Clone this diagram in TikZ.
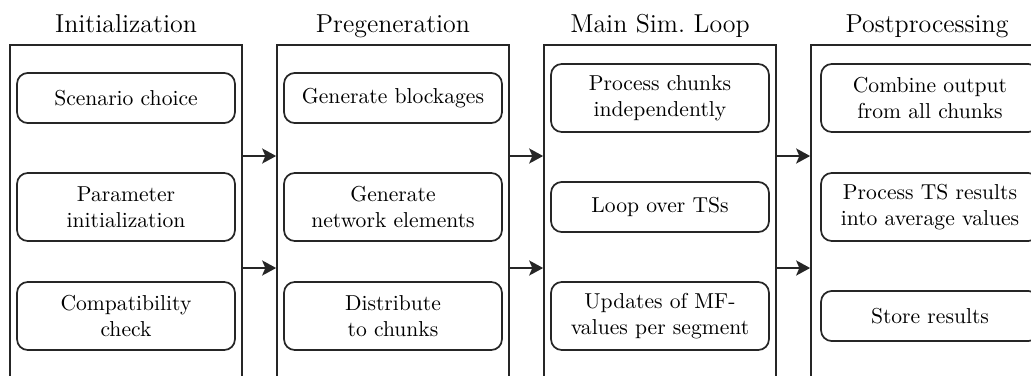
\documentclass[tikz,border=0pt]{standalone}
\usepackage{tikz}
\usetikzlibrary{positioning,arrows.meta}
\tikzset{
  stage/.style={draw=black!85,line width=0.8pt,anchor=north,
                minimum width=107.4pt,minimum height=170pt},
  stagetitle/.style={anchor=base,font=\large},
  task/.style={draw=black!85,line width=0.8pt,rounded corners=5pt,align=center,
               minimum width=100.9pt,minimum height=23.2pt,inner sep=2pt},
  tasktwo/.style={task,minimum height=31.5pt},
  flow/.style={-{Stealth[length=6.5pt,width=7pt,inset=1.5pt]},line width=0.8pt,black!85},
}

\begin{document}
\begin{tikzpicture}[x=0.463pt,y=-0.463pt]
  \useasboundingbox (0,0) rectangle (1031,375);
  \clip (0,0) rectangle (1031,375);

  % ===== stage frames (run past the bottom edge) =====
  \node[stage] (init)   at (126,44) {};
  \node[stage] (pregen) at (393,44) {};
  \node[stage] (loop)   at (660,44) {};
  \node[stage] (post)   at (927,44) {};

  \node[stagetitle] (tinit)   at (126,32) {Initialization};
  \node[stagetitle] (tpregen) at (393,32) {Pregeneration};
  \node[stagetitle] (tloop)   at (660,32) {Main Sim.\ Loop};
  \node[stagetitle] (tpost)   at (927,32) {Postprocessing};

  % ===== Initialization =====
  \node[task]    (scen)   at (126,98)  {Scenario choice};
  \node[tasktwo] (param)  at (126,207) {Parameter\\initialization};
  \node[tasktwo] (compat) at (126,316) {Compatibility\\check};

  % ===== Pregeneration =====
  \node[task]    (block)  at (393,98)  {Generate blockages};
  \node[tasktwo] (netel)  at (393,207) {Generate\\network elements};
  \node[tasktwo] (distr)  at (393,316) {Distribute\\to chunks};

  % ===== Main sim. loop =====
  \node[tasktwo] (chunks) at (660,98)  {Process chunks\\independently};
  \node[task]    (tsloop) at (660,207) {Loop over TSs};
  \node[tasktwo] (mfupd)  at (660,316) {Updates of MF-\\values per segment};

  % ===== Postprocessing =====
  \node[tasktwo] (comb)   at (930,98)  {Combine output\\from all chunks};
  \node[tasktwo] (avg)    at (930,207) {Process TS results\\into average values};
  \node[task]    (store)  at (930,316) {Store results};

  % hand-over arrows between the stages
  \coordinate (upper) at (0,156);
  \coordinate (lower) at (0,268);
  \draw[flow] (init.east |- upper) -- (pregen.west |- upper);
  \draw[flow] (init.east |- lower) -- (pregen.west |- lower);
  \draw[flow] (pregen.east |- upper) -- (loop.west |- upper);
  \draw[flow] (pregen.east |- lower) -- (loop.west |- lower);
  \draw[flow] (loop.east |- upper) -- (post.west |- upper);
  \draw[flow] (loop.east |- lower) -- (post.west |- lower);
\end{tikzpicture}
\end{document}
